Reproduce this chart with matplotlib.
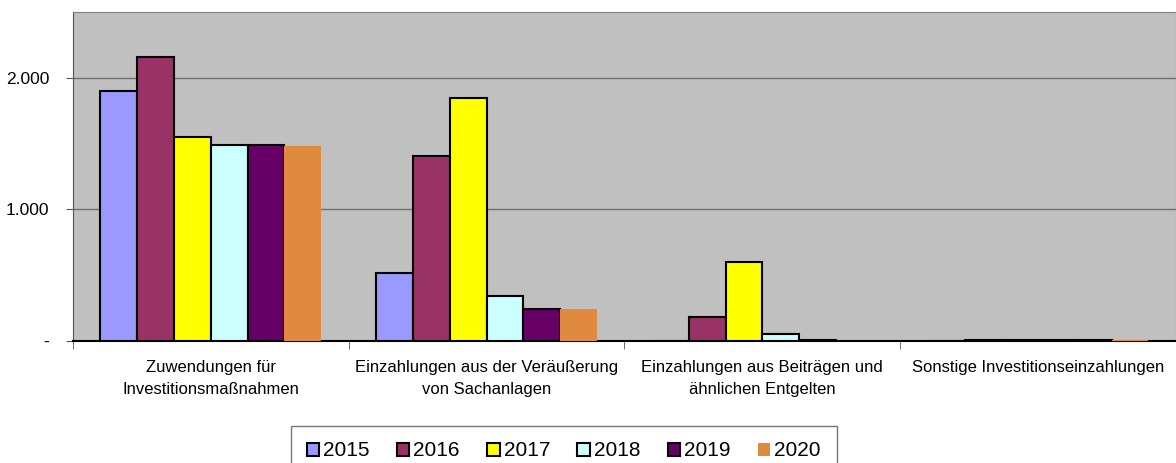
import numpy as np
import matplotlib.pyplot as plt
from matplotlib.ticker import FixedLocator, FuncFormatter

plt.rcParams['font.family'] = ['Liberation Sans', 'DejaVu Sans']

categories = ['Zuwendungen für\nInvestitionsmaßnahmen',
              'Einzahlungen aus der Veräußerung\nvon Sachanlagen',
              'Einzahlungen aus Beiträgen und\nähnlichen Entgelten',
              'Sonstige Investitionseinzahlungen']
years = ['2015', '2016', '2017', '2018', '2019', '2020']
werte = {
    '2015': [1900, 520, 0, 0],
    '2016': [2160, 1405, 185, 10],
    '2017': [1550, 1847, 603, 10],
    '2018': [1490, 345, 55, 10],
    '2019': [1490, 245, 5, 10],
    '2020': [1485, 245, 0, 8],
}
farben = ['#9999FF', '#993366', '#FFFF00', '#CCFFFF', '#660066', '#E08A40']

fig = plt.figure(figsize=(11.76, 4.63), dpi=100)
ax = fig.add_axes([0.062, 0.2635, 0.938, 0.7105])
ax.set_facecolor('#C0C0C0')

x = np.arange(len(categories))
bw = 0.8 / len(years)
for i, (jahr, farbe) in enumerate(zip(years, farben)):
    pos = x - 0.4 + bw * (i + 0.5)
    if jahr == '2020':
        ax.bar(pos, werte[jahr], bw, color=farbe, edgecolor='none', label=jahr, zorder=3)
    else:
        ax.bar(pos, werte[jahr], bw, color=farbe, edgecolor='black', linewidth=1.5,
               label=jahr, zorder=3)

ax.set_xlim(-0.5, len(categories) - 0.5)
ax.set_ylim(0, 2500)
ax.yaxis.set_major_locator(FixedLocator([0, 1000, 2000]))
ax.yaxis.set_major_formatter(FuncFormatter(lambda v, p: '-' if v == 0 else f'{int(v):,}'.replace(',', '.')))
ax.grid(axis='y', color='#707070', linewidth=1, zorder=1)

ax.set_xticks(x)
ax.set_xticklabels(categories, fontsize=12, linespacing=1.55)
ax.tick_params(axis='x', which='major', length=0, pad=14)
ax.set_xticks(np.arange(-0.5, len(categories)), minor=True)
ax.tick_params(axis='x', which='minor', length=6, color='#555555')
ax.tick_params(axis='y', length=5, color='#555555', labelsize=12.5, pad=12)

for s in ['top', 'right']:
    ax.spines[s].set_color('#808080')
ax.spines['left'].set_color('#555555')
ax.spines['bottom'].set_color('black')
ax.spines['bottom'].set_linewidth(1.5)

leg = ax.legend(loc='upper center', bbox_to_anchor=(0.445, -0.258), ncol=6, fontsize=15,
                frameon=True, fancybox=False, edgecolor='#555555', handlelength=0.6,
                handleheight=0.6, handletextpad=0.2, columnspacing=1.3,
                borderpad=0.75, borderaxespad=0)
leg.get_frame().set_linewidth(1)

fig.savefig('out.png', dpi=100)
